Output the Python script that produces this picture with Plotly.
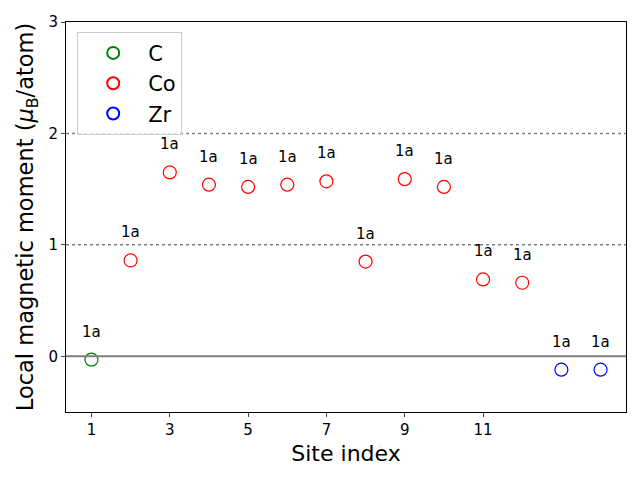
import plotly.graph_objects as go

sites = list(range(1, 15))
elements = ["C", "Co", "Co", "Co", "Co", "Co", "Co", "Co", "Co", "Co", "Co", "Co", "Zr", "Zr"]
moments = [-0.03, 0.86, 1.65, 1.54, 1.52, 1.54, 1.57, 0.85, 1.59, 1.52, 0.69, 0.66, -0.12, -0.12]
wyckoff = ["1a"] * 14
colors = {"C": "green", "Co": "red", "Zr": "blue"}
xticks = [1, 3, 5, 7, 9, 11]
yticks = [0, 1, 2, 3]

FONT = "DejaVu Sans, sans-serif"

fig = go.Figure()
for el in ["C", "Co", "Zr"]:
    xs = [s for s, e in zip(sites, elements) if e == el]
    ys = [m for m, e in zip(moments, elements) if e == el]
    fig.add_trace(go.Scatter(
        x=xs, y=ys, mode="markers", name=el,
        marker=dict(symbol="circle-open", size=13, color=colors[el], line=dict(width=1.2)),
    ))

for s, m, w in zip(sites, moments, wyckoff):
    fig.add_annotation(x=s, y=m, text=w, showarrow=False, yshift=28,
                       font=dict(size=15, color="black", family=FONT))

fig.add_hline(y=0, line=dict(color="gray", width=2))
for yv in [1, 2]:
    fig.add_hline(y=yv, line=dict(color="gray", width=1.5, dash="dot"))

fig.update_layout(
    width=632, height=472,
    margin=dict(l=58, r=14, t=14, b=68),
    paper_bgcolor="white", plot_bgcolor="white",
    font=dict(family=FONT, color="black"),
    showlegend=True,
    legend=dict(x=0.02, y=0.975, xanchor="left", yanchor="top",
                bgcolor="rgba(255,255,255,0.8)", bordercolor="#cccccc", borderwidth=1,
                font=dict(size=21, family=FONT), itemsizing="constant", tracegroupgap=4,
                itemwidth=60),
    xaxis=dict(range=[0.35, 14.65], tickvals=xticks, ticks="outside", ticklen=4,
               showgrid=False, zeroline=False, showline=True, linecolor="black", mirror=True,
               tickfont=dict(size=15), automargin=False,
               title=dict(text="Site index", font=dict(size=22, family=FONT), standoff=7)),
    yaxis=dict(range=[-0.5, 3], tickvals=yticks, ticks="outside", ticklen=4,
               showgrid=False, zeroline=False, showline=True, linecolor="black", mirror=True,
               tickfont=dict(size=15), automargin=False,
               title=dict(text="Local magnetic moment (<i>μ</i><sub>B</sub>/atom)",
                          font=dict(size=22.5, family=FONT), standoff=8)),
)

fig.write_html("out.html")
